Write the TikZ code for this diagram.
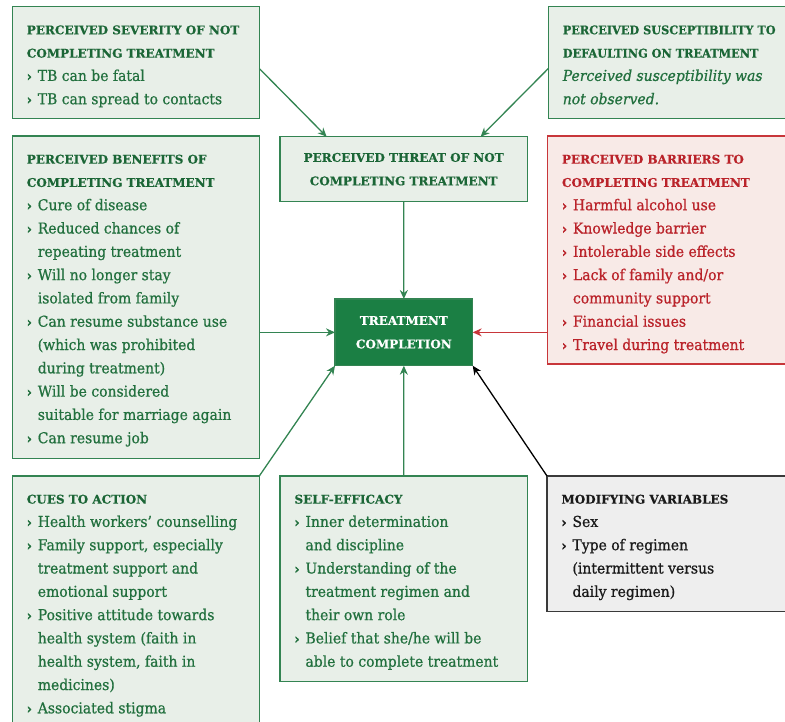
\documentclass[tikz,border=0pt]{standalone}
\usepackage{fontspec}
\setmainfont{DejaVu Serif}[FakeStretch=0.93, FakeBold=0.8]
\newfontfamily\hdfont{DejaVu Serif}[FakeBold=0.4]
\newfontfamily\hdfontn{DejaVu Serif}[FakeStretch=0.94, FakeBold=0.4]
\newfontfamily\blfont{DejaVu Sans}[FakeBold=3]
\usetikzlibrary{arrows.meta}
\definecolor{gline}{HTML}{338452}
\definecolor{gfill}{HTML}{E8EFE8}
\definecolor{ghead}{HTML}{1B6636}
\definecolor{gtext}{HTML}{22703E}
\definecolor{tcfill}{HTML}{1B7F44}
\definecolor{rline}{HTML}{C8363A}
\definecolor{rfill}{HTML}{F8EAE7}
\definecolor{rtext}{HTML}{BA232A}
\definecolor{kline}{HTML}{3A3A3A}
\definecolor{kfill}{HTML}{EEEEEE}
\definecolor{ktext}{HTML}{1A1A1A}
\newcommand\bl{\makebox[11pt][l]{\blfont\fontsize{13}{23.3}\selectfont ›}}
\newcommand\ct{\hspace*{11pt}}
\newcommand\hd[1]{{\hdfont\bfseries\fontsize{12}{23.3}\selectfont #1}}
\newcommand\hdn[1]{{\hdfontn\bfseries\fontsize{12}{23.3}\selectfont #1}}
\newcommand\tb[2]{\parbox[t]{#1}{\fontsize{15}{23.3}\selectfont\raggedright\leavevmode #2}}
\tikzset{
  gbox/.style={draw=gline, fill=gfill, line width=1.3pt, inner sep=0pt, outer sep=0pt, anchor=north west},
  rbox/.style={gbox, draw=rline, fill=rfill},
  kbox/.style={gbox, draw=kline, fill=kfill},
  txt/.style={inner sep=0pt, outer sep=0pt, anchor=base west},
  garr/.style={draw=gline, line width=1.3pt, -{Stealth[length=9pt,width=8pt]}},
  rarr/.style={garr, draw=rline},
  karr/.style={garr, draw=black},
}
\begin{document}
\begin{tikzpicture}[x=1pt,y=1pt]
\useasboundingbox (0,0) rectangle (785,-721);
% boxes
\node[gbox, minimum width=247pt, minimum height=111.6pt] (sev) at (12.3,-6.7) {};
\node[gbox, minimum width=240pt, minimum height=111.6pt] (sus) at (548.3,-6.7) {};
\node[gbox, minimum width=247.3pt, minimum height=65pt, anchor=north west, align=center,
      text=ghead, font={\hdfont\bfseries\fontsize{12}{23.5}\selectfont}] (thr) at (280,-136.7)
      {PERCEIVED THREAT OF NOT\\COMPLETING TREATMENT};
\node[gbox, fill=tcfill, draw=gline, minimum width=137.7pt, minimum height=66.7pt, align=center,
      text=white, font={\hdfont\bfseries\fontsize{12}{23.5}\selectfont}] (tc) at (335,-299)
      {TREATMENT\\COMPLETION};
\node[gbox, minimum width=247pt, minimum height=322.3pt] (ben) at (12.3,-136) {};
\node[rbox, minimum width=240pt, minimum height=228pt] (bar) at (547.5,-136) {};
\node[gbox, minimum width=247pt, minimum height=250pt] (cue) at (12.3,-476) {};
\node[gbox, minimum width=247.3pt, minimum height=205.7pt] (sel) at (280,-476) {};
\node[kbox, minimum width=240pt, minimum height=135.7pt] (mod) at (547,-476) {};
% texts
\node[txt, text=gtext] (sevT) at ([shift={(14.5pt,-27.6pt)}]sev.north west) {\tb{235pt}{%
  {\color{ghead}\hd{PERCEIVED SEVERITY OF NOT}}\\
  {\color{ghead}\hd{COMPLETING TREATMENT}}\\
  \bl TB can be fatal\\
  \bl TB can spread to contacts}};
\node[txt, text=gtext] (susT) at ([shift={(14.5pt,-27.6pt)}]sus.north west) {\tb{235pt}{%
  {\color{ghead}\hdn{PERCEIVED SUSCEPTIBILITY TO}}\\
  {\color{ghead}\hdn{DEFAULTING ON TREATMENT}}\\
  \textit{Perceived susceptibility was}\\
  \textit{not observed.}}};
\node[txt, text=gtext] (benT) at ([shift={(14.5pt,-27.6pt)}]ben.north west) {\tb{235pt}{%
  {\color{ghead}\hd{PERCEIVED BENEFITS OF}}\\
  {\color{ghead}\hd{COMPLETING TREATMENT}}\\
  \bl Cure of disease\\
  \bl Reduced chances of\\
  \ct repeating treatment\\
  \bl Will no longer stay\\
  \ct isolated from family\\
  \bl Can resume substance use\\
  \ct (which was prohibited\\
  \ct during treatment)\\
  \bl Will be considered\\
  \ct suitable for marriage again\\
  \bl Can resume job}};
\node[txt, text=rtext] (barT) at ([shift={(14.5pt,-27.6pt)}]bar.north west) {\tb{235pt}{%
  \hd{PERCEIVED BARRIERS TO}\\
  \hd{COMPLETING TREATMENT}\\
  \bl Harmful alcohol use\\
  \bl Knowledge barrier\\
  \bl Intolerable side effects\\
  \bl Lack of family and/or\\
  \ct community support\\
  \bl Financial issues\\
  \bl Travel during treatment}};
\node[txt, text=gtext] (cueT) at ([shift={(14.5pt,-27.6pt)}]cue.north west) {\tb{235pt}{%
  {\color{ghead}\hd{CUES TO ACTION}}\\
  \bl Health workers’ counselling\\
  \bl Family support, especially\\
  \ct treatment support and\\
  \ct emotional support\\
  \bl Positive attitude towards\\
  \ct health system (faith in\\
  \ct health system, faith in\\
  \ct medicines)\\
  \bl Associated stigma}};
\node[txt, text=gtext] (selT) at ([shift={(14.5pt,-27.6pt)}]sel.north west) {\tb{235pt}{%
  {\color{ghead}\hd{SELF-EFFICACY}}\\
  \bl Inner determination\\
  \ct and discipline\\
  \bl Understanding of the\\
  \ct treatment regimen and\\
  \ct their own role\\
  \bl Belief that she/he will be\\
  \ct able to complete treatment}};
\node[txt, text=ktext] (modT) at ([shift={(14.5pt,-27.6pt)}]mod.north west) {\tb{235pt}{%
  \hd{MODIFYING VARIABLES}\\
  \bl Sex\\
  \bl Type of regimen\\
  \ct (intermittent versus\\
  \ct daily regimen)}};
% connectors
\draw[garr] ([yshift=-6pt]sev.east) -- ([xshift=-77pt]thr.north);
\draw[garr] ([yshift=-6pt]sus.west) -- ([xshift=77pt]thr.north);
\draw[garr] (thr.south) -- (tc.north);
\draw[garr] (ben.east |- tc.west) -- (tc.west);
\draw[rarr] (bar.west |- tc.east) -- (tc.east);
\draw[garr] (cue.north east) -- (tc.south west);
\draw[garr] (sel.north) -- (tc.south);
\draw[karr] (mod.north west) -- (tc.south east);
\end{tikzpicture}
\end{document}
